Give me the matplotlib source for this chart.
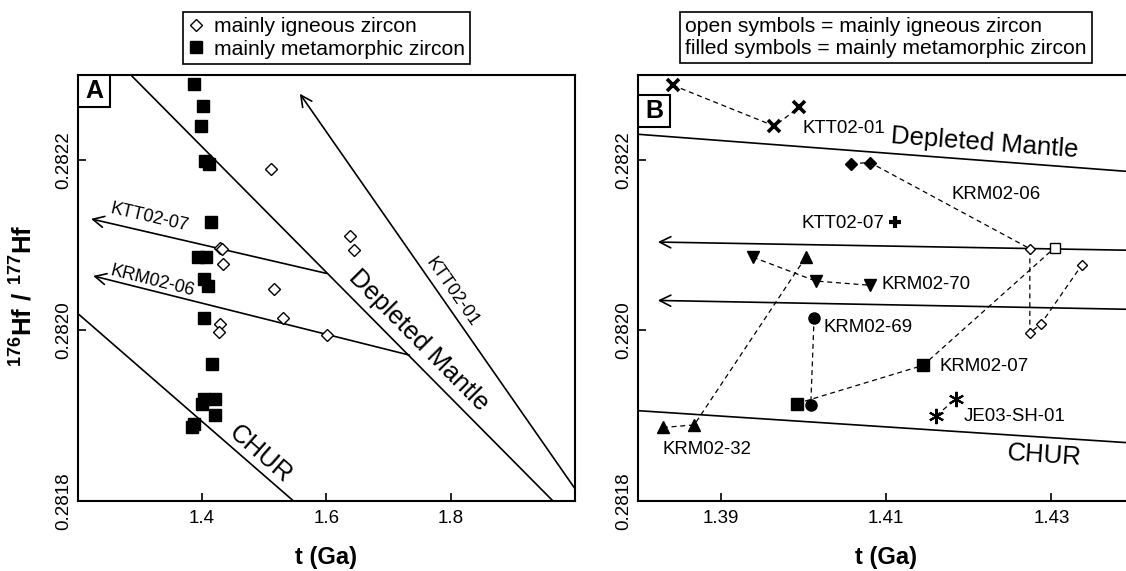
import matplotlib

matplotlib.use("Agg")
import matplotlib.pyplot as plt
import numpy as np
from matplotlib.lines import Line2D
from matplotlib.patches import Rectangle

plt.rcParams["font.family"] = ["Liberation Sans", "DejaVu Sans"]
plt.rcParams["mathtext.fontset"] = "custom"
plt.rcParams["mathtext.rm"] = "Liberation Sans"
plt.rcParams["mathtext.bf"] = "Liberation Sans:bold"

# ---- panel A data (t in Ga, 176Hf/177Hf) ----
a_meta_t = [1.3863, 1.4018, 1.3988, 1.4042, 1.4113, 1.4137, 1.3935, 1.4059, 1.4024,
            1.4101, 1.4024, 1.4154, 1.4006, 1.4030, 1.4202, 1.4202, 1.3875, 1.3834]
a_meta_hf = [0.282289, 0.282263, 0.282240, 0.282199, 0.282196, 0.282127, 0.282086,
             0.282086, 0.282060, 0.282052, 0.282015, 0.281960, 0.281914, 0.281920,
             0.281920, 0.281901, 0.281890, 0.281886]
a_ign_t = [1.5104, 1.4297, 1.4320, 1.4344, 1.6380, 1.6451, 1.5163, 1.5306, 1.4297,
           1.4279, 1.6006]
a_ign_hf = [0.282190, 0.282097, 0.282096, 0.282078, 0.282111, 0.282095, 0.282049,
            0.282014, 0.282008, 0.281998, 0.281995]

# reference lines: two points read on each
dm_t = [1.2855, 1.964]
dm_hf = [0.2823, 0.2818]
chur_t = [1.2, 1.5466]
chur_hf = [0.28202, 0.2818]

# model-age arrows: start on the depleted mantle, tip to the left
ktt0201_t = [2.0, 1.5573]
ktt0201_hf = [0.281814, 0.282278]
ktt0207_t = [1.600, 1.2214]
ktt0207_hf = [0.282067, 0.282131]
krm0206_line_t = [1.7336, 1.2249]
krm0206_line_hf = [0.281971, 0.282064]
b_arrow_tip_t = 1.3824

# ---- panel B data ----
b_ktt0201_t = [1.3842, 1.3965, 1.3995]
b_ktt0201_hf = [0.282288, 0.282240, 0.282262]
b_krm0206_fill_t = [1.4058, 1.4081]
b_krm0206_fill_hf = [0.282196, 0.282197]
b_krm0206_open_t = [1.4274, 1.4274, 1.4287, 1.4337]
b_krm0206_open_hf = [0.282096, 0.281997, 0.282007, 0.282077]
b_krm0207_fill_t = [1.3992, 1.4145]
b_krm0207_fill_hf = [0.281914, 0.281959]
b_krm0207_open_t = [1.4304]
b_krm0207_open_hf = [0.282097]
b_krm0269_t = [1.4013, 1.4009]
b_krm0269_hf = [0.282015, 0.281912]
b_krm0270_t = [1.3939, 1.4015, 1.4081]
b_krm0270_hf = [0.282086, 0.282058, 0.282053]
b_krm0232_t = [1.3830, 1.3868, 1.4003]
b_krm0232_hf = [0.281886, 0.281889, 0.282086]
b_ktt0207_t = [1.4111]
b_ktt0207_hf = [0.282127]
b_je03_t = [1.4161, 1.4185]
b_je03_hf = [0.281900, 0.281920]

b_labels = ["KTT02-01", "KRM02-06", "KTT02-07", "KRM02-70", "KRM02-69",
            "KRM02-07", "JE03-SH-01", "KRM02-32"]
b_label_t = [1.3999, 1.4179, 1.3998, 1.4095, 1.4025, 1.4165, 1.4194, 1.3830]
b_label_hf = [0.282237, 0.282160, 0.282125, 0.282054, 0.282003, 0.281958,
              0.281899, 0.281860]


def line_at(ts, hs, t):
    slope = (hs[1] - hs[0]) / (ts[1] - ts[0])
    return hs[0] + slope * (t - ts[0])


def angle(ax, ts, hs):
    p = ax.transData.transform((ts[0], hs[0]))
    q = ax.transData.transform((ts[1], hs[1]))
    if q[0] < p[0]:
        p, q = q, p
    return np.degrees(np.arctan2(q[1] - p[1], q[0] - p[0]))


def arrow(ax, start, tip):
    ax.annotate("", xy=tip, xytext=start,
                arrowprops=dict(arrowstyle="->", lw=1.2, color="black",
                                mutation_scale=20, shrinkA=0, shrinkB=0))


def style(ax, xticks, xlabels):
    ax.set_ylim(0.2818, 0.2823)
    ax.set_yticks([0.2818, 0.2820, 0.2822])
    ax.set_yticklabels(["0.2818", "0.2820", "0.2822"], rotation=90, va="center")
    ax.set_xticks(xticks)
    ax.set_xticklabels(xlabels)
    ax.tick_params(direction="in", length=5.5, width=1.2, labelsize=13.5)
    ax.tick_params(axis="x", pad=7)
    ax.tick_params(axis="y", pad=4)
    for s in ax.spines.values():
        s.set_linewidth(1.5)
    ax.set_xlabel("t (Ga)", fontsize=17, fontweight="bold")
    ax.xaxis.set_label_coords(0.5, -0.106)
    ax.xaxis.label.set_va("top")


fig = plt.figure(figsize=(11.26, 5.71), dpi=100)
ax_a = fig.add_axes([0.0690, 0.1231, 0.4417, 0.7456])
ax_b = fig.add_axes([0.5666, 0.1231, 0.4405, 0.7456])

# ---------------- panel A ----------------
ax_a.set_xlim(1.2, 2.0)
style(ax_a, [1.4, 1.6, 1.8], ["1.4", "1.6", "1.8"])

ax_a.axline((dm_t[0], dm_hf[0]), (dm_t[1], dm_hf[1]), color="black", lw=1.2)
ax_a.axline((chur_t[0], chur_hf[0]), (chur_t[1], chur_hf[1]), color="black", lw=1.2)
arrow(ax_a, (ktt0201_t[0], ktt0201_hf[0]), (ktt0201_t[1], ktt0201_hf[1]))
arrow(ax_a, (ktt0207_t[0], ktt0207_hf[0]), (ktt0207_t[1], ktt0207_hf[1]))
arrow(ax_a, (krm0206_line_t[0], krm0206_line_hf[0]), (krm0206_line_t[1], krm0206_line_hf[1]))

ax_a.plot(a_ign_t, a_ign_hf, ls="", marker="D", ms=6, mfc="white", mec="black", mew=1, zorder=3)
ax_a.plot(a_meta_t, a_meta_hf, ls="", marker="s", ms=8, color="black", zorder=3)

kw = dict(ha="center", va="center", rotation_mode="anchor")
ax_a.text(1.3153, 0.282132, "KTT02-07", fontsize=13,
          rotation=angle(ax_a, ktt0207_t, ktt0207_hf), **kw)
ax_a.text(1.3196, 0.282058, "KRM02-06", fontsize=13,
          rotation=angle(ax_a, krm0206_line_t, krm0206_line_hf), **kw)
ax_a.text(1.8016, 0.282045, "KTT02-01", fontsize=13,
          rotation=angle(ax_a, ktt0201_t, ktt0201_hf), **kw)
ax_a.text(1.7483, 0.281988, "Depleted Mantle", fontsize=18.5,
          rotation=angle(ax_a, dm_t, dm_hf), **kw)
ax_a.text(1.4947, 0.281855, "CHUR", fontsize=18.5,
          rotation=angle(ax_a, chur_t, chur_hf), **kw)

ax_a.add_patch(Rectangle((0, 1 - 0.0745), 0.0654, 0.0745, transform=ax_a.transAxes,
                         fc="white", ec="black", lw=1.5, zorder=5))
ax_a.text(0.0327, 1 - 0.0372, "A", transform=ax_a.transAxes, ha="center", va="center",
          fontsize=18, fontweight="bold", zorder=6)

handles = [
    Line2D([], [], ls="", marker="D", ms=6.5, mfc="white", mec="black", mew=1),
    Line2D([], [], ls="", marker="s", ms=9, color="black"),
]
leg = ax_a.legend(handles, ["mainly igneous zircon", "mainly metamorphic zircon"],
                  loc="lower center", bbox_to_anchor=(0.5, 1.026), fontsize=15.2,
                  frameon=True, fancybox=False, edgecolor="black", framealpha=1,
                  handlelength=0.7, handletextpad=0.5, borderpad=0.25, labelspacing=0.15,
                  borderaxespad=0)
leg.get_frame().set_linewidth(1.2)

# ---------------- panel B ----------------
ax_b.set_xlim(1.38, 1.44)
style(ax_b, [1.39, 1.41, 1.43], ["1.39", "1.41", "1.43"])

ax_b.axline((dm_t[0], dm_hf[0]), (dm_t[1], dm_hf[1]), color="black", lw=1.2)
ax_b.axline((chur_t[0], chur_hf[0]), (chur_t[1], chur_hf[1]), color="black", lw=1.2)
for ts, hs in [(ktt0207_t, ktt0207_hf), (krm0206_line_t, krm0206_line_hf)]:
    arrow(ax_b, (1.44, line_at(ts, hs, 1.44)), (b_arrow_tip_t, line_at(ts, hs, b_arrow_tip_t)))

dash = dict(color="black", lw=0.9, ls=(0, (4, 3)), zorder=2)
ax_b.plot(b_ktt0201_t, b_ktt0201_hf, **dash)
ax_b.plot(b_krm0206_fill_t + b_krm0206_open_t, b_krm0206_fill_hf + b_krm0206_open_hf, **dash)
ax_b.plot(b_krm0207_fill_t + b_krm0207_open_t, b_krm0207_fill_hf + b_krm0207_open_hf, **dash)
ax_b.plot(b_krm0269_t, b_krm0269_hf, **dash)
ax_b.plot(b_krm0270_t, b_krm0270_hf, **dash)
ax_b.plot(b_krm0232_t, b_krm0232_hf, **dash)
ax_b.plot(b_je03_t, b_je03_hf, **dash)

mk = dict(ls="", color="black", zorder=3)
ax_b.plot(b_ktt0201_t, b_ktt0201_hf, marker="x", ms=9, mew=2.6, **mk)
ax_b.plot(b_krm0206_fill_t, b_krm0206_fill_hf, marker="D", ms=6, **mk)
ax_b.plot(b_krm0206_open_t, b_krm0206_open_hf, marker="D", ms=5.5, mfc="white", mew=1, **mk)
ax_b.plot(b_krm0207_fill_t, b_krm0207_fill_hf, marker="s", ms=8.5, **mk)
ax_b.plot(b_krm0207_open_t, b_krm0207_open_hf, marker="s", ms=7.5, mfc="white", mew=1, **mk)
ax_b.plot(b_krm0269_t, b_krm0269_hf, marker="o", ms=8, **mk)
ax_b.plot(b_krm0270_t, b_krm0270_hf, marker="v", ms=8, **mk)
ax_b.plot(b_krm0232_t, b_krm0232_hf, marker="^", ms=8, **mk)
ax_b.plot(b_ktt0207_t, b_ktt0207_hf, marker="+", ms=9, mew=3, **mk)
ax_b.plot(b_je03_t, b_je03_hf, marker=(6, 2, 0), ms=11, mew=1.5, **mk)

for lab, t, h in zip(b_labels, b_label_t, b_label_hf):
    ax_b.text(t, h, lab, fontsize=13.4, ha="left", va="center")

ax_b.text(1.4219, 0.28222, "Depleted Mantle", fontsize=18.5,
          rotation=angle(ax_b, dm_t, dm_hf), **kw)
ax_b.text(1.4292, 0.281853, "CHUR", fontsize=18.5,
          rotation=angle(ax_b, chur_t, chur_hf), **kw)

ax_b.add_patch(Rectangle((0, 0.8786), 0.0651, 0.0744, transform=ax_b.transAxes,
                         fc="white", ec="black", lw=1.5, zorder=5))
ax_b.text(0.0326, 0.9158, "B", transform=ax_b.transAxes, ha="center", va="center",
          fontsize=18, fontweight="bold", zorder=6)

ax_b.text(0.5, 1.04, "open symbols = mainly igneous zircon\nfilled symbols = mainly metamorphic zircon",
          transform=ax_b.transAxes, ha="center", va="bottom", multialignment="left",
          fontsize=15.2, linespacing=1.2,
          bbox=dict(boxstyle="square,pad=0.25", fc="white", ec="black", lw=1.2))

fig.text(24 / 1126, 1 - 296 / 571, r"$\mathbf{^{176}Hf\ /\ ^{177}Hf}$", rotation=90,
         ha="center", va="center", fontsize=18.5)

fig.savefig("out.png", dpi=100)
